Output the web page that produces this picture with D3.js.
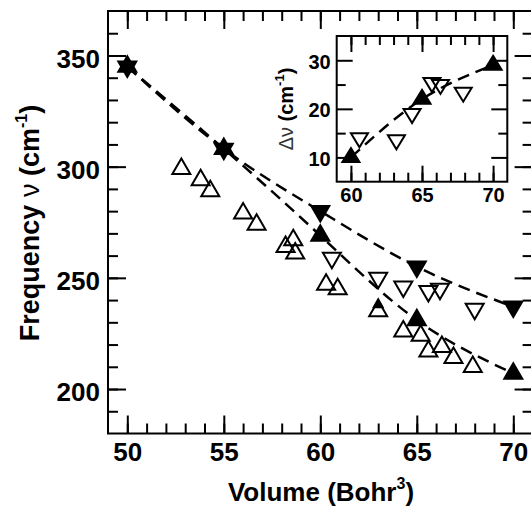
<!DOCTYPE html>
<html>
<head>
<meta charset="utf-8">
<script src="https://cdn.jsdelivr.net/npm/d3@7"></script>
<style>
    body { margin: 0; background: #fff; }
    svg { display: block; font-family: "Liberation Sans", Arial, sans-serif; }
</style>
</head>
<body>
<svg id="chart" width="531" height="510"></svg>
<script>
// calculated frequencies, joined by the dashed lines
const calcVolume = [50, 55, 60, 65, 70];
const calcUpper = [345, 308, 280, 255, 237];   // filled down triangles
const calcLower = [345, 308, 269, 231, 207];   // filled up triangles

// open up triangles
const upVolume = [52.8, 53.8, 54.3, 56.0, 56.7, 58.2, 58.6, 58.7, 60.3, 60.9, 63.0, 64.3, 65.2, 65.6, 66.3, 66.9, 67.9];
const upFreq = [299, 294, 289, 279, 274, 264, 267, 261, 247, 245, 235, 226, 224, 217, 219, 214, 210];

// small filled point hiding in the open triangle at 63
const extraVolume = [63.0];
const extraFreq = [238];

// open down triangles
const downVolume = [60.6, 63.0, 64.3, 65.6, 66.2, 68.0];
const downFreq = [259, 250, 246, 244, 245, 236];

// inset: splitting delta nu
const insetCalcVolume = [60, 65, 70];
const insetCalcDelta = [10, 22, 29];
const insetVolume = [60.6, 63.2, 64.3, 65.7, 66.3, 67.9];
const insetDelta = [14, 13.6, 19, 25.4, 25, 23.4];

// ticks
const xMajor = [50, 55, 60, 65, 70];
const yMajor = [200, 250, 300, 350];
const insetXMajor = [60, 65, 70];
const insetYMajor = [10, 20, 30];

const svg = d3.select("#chart");

// main scales
const x = d3.scaleLinear().domain([49, 71]).range([108, 532.6]);
const y = d3.scaleLinear().domain([180, 370]).range([433.5, 11]);

// inset scales
const xi = d3.scaleLinear().domain([59, 71]).range([336.7, 507.3]);
const yi = d3.scaleLinear().domain([5, 35]).range([181.7, 36]);

// triangle path, centred on its centroid (two of them make a star)
function tri(w, h, down) {
    const t = -2 * h / 3, b = h / 3;
    if (down) return `M${-w/2},${-b}L${w/2},${-b}L0,${-t}Z`;
    return `M0,${t}L${w/2},${b}L${-w/2},${b}Z`;
}

function styleText(sel, size) {
    sel.attr("font-size", size)
        .attr("font-weight", "bold")
        .attr("fill", "black")
        .attr("font-family", "'Liberation Sans', Arial, sans-serif");
}

// box with inward ticks on all four sides, labels bottom and left
function frame(g, xs, ys, o) {
    const [x0, x1] = xs.range();
    const [y0, y1] = ys.range();

    g.append("rect")
        .attr("x", x0).attr("y", y1)
        .attr("width", x1 - x0).attr("height", y0 - y1)
        .attr("fill", "white");

    const sides = [
        [() => d3.axisBottom(xs), `translate(0,${y0})`, o.xMaj, o.xMin],
        [() => d3.axisTop(xs), `translate(0,${y1})`, o.xMaj, o.xMin],
        [() => d3.axisLeft(ys), `translate(${x0},0)`, o.yMaj, o.yMin],
        [() => d3.axisRight(ys), `translate(${x1},0)`, o.yMaj, o.yMin]
    ];

    sides.forEach(([axis, tr, maj, min]) => {
        g.append("g")
            .attr("transform", tr)
            .call(axis().tickValues(min).tickSize(-o.small).tickSizeOuter(0).tickFormat(""))
            .call(a => a.select(".domain").remove())
            .call(a => a.selectAll("line").attr("stroke-width", 2));
        g.append("g")
            .attr("transform", tr)
            .call(axis().tickValues(maj).tickSize(-o.big).tickSizeOuter(0).tickFormat(""))
            .call(a => a.select(".domain").remove())
            .call(a => a.selectAll("line").attr("stroke-width", 2));
    });

    g.append("rect")
        .attr("x", x0).attr("y", y1)
        .attr("width", x1 - x0).attr("height", y0 - y1)
        .attr("fill", "none")
        .attr("stroke", "black")
        .attr("stroke-width", 2);

    // labels
    g.append("g")
        .attr("transform", `translate(0,${y0})`)
        .call(d3.axisBottom(xs).tickValues(o.xMaj).tickSize(0).tickPadding(o.xPad))
        .call(a => a.select(".domain").remove())
        .selectAll("text")
        .call(styleText, o.font);

    g.append("g")
        .attr("transform", `translate(${x0},0)`)
        .call(d3.axisLeft(ys).tickValues(o.yMaj).tickSize(0).tickPadding(o.yPad))
        .call(a => a.select(".domain").remove())
        .selectAll("text")
        .attr("dy", o.yDy)
        .call(styleText, o.font);
}

// ---------- main plot ----------
const main = svg.append("g");
frame(main, x, y, {
    xMaj: xMajor, xMin: d3.range(50, 71),
    yMaj: yMajor, yMin: d3.range(190, 370, 10),
    big: 18, small: 10, font: 26, xPad: 9, yPad: 8, yDy: "0.45em"
});

const line = (xs, ys, xv, yv) => d3.line()
    .x((d, i) => xs(xv[i]))
    .y((d, i) => ys(yv[i]))
    .curve(d3.curveNatural)(xv);

[calcUpper, calcLower].forEach(f => {
    main.append("path")
        .attr("d", line(x, y, calcVolume, f))
        .attr("fill", "none")
        .attr("stroke", "black")
        .attr("stroke-width", 2.5)
        .attr("stroke-dasharray", "12,7");
});

function marks(g, cls, xs, ys, xv, yv, w, h, down, filled) {
    g.selectAll("." + cls)
        .data(xv)
        .join("path")
        .attr("class", cls)
        .attr("transform", (d, i) => `translate(${xs(d)},${ys(yv[i])})`)
        .attr("d", tri(w, h, down))
        .attr("fill", filled ? "black" : "none")
        .attr("stroke", "black")
        .attr("stroke-width", 2);
}

marks(main, "open-up", x, y, upVolume, upFreq, 18, 15.5, false, false);
marks(main, "extra", x, y, extraVolume, extraFreq, 9, 8, false, true);
marks(main, "open-down", x, y, downVolume, downFreq, 18, 15.5, true, false);
marks(main, "calc-down", x, y, calcVolume, calcUpper, 18, 15.5, true, true);
marks(main, "calc-up", x, y, calcVolume, calcLower, 18, 15.5, false, true);

// axis titles
const xTitle = svg.append("text")
    .attr("x", 321).attr("y", 501)
    .attr("text-anchor", "middle")
    .attr("font-size", 26)
    .attr("font-weight", "bold");
xTitle.append("tspan").text("Volume (Bohr");
xTitle.append("tspan").attr("font-size", 16).attr("dy", -12).text("3");
xTitle.append("tspan").attr("dy", 12).text(")");

const yTitle = svg.append("text")
    .attr("transform", "translate(39,223) rotate(-90)")
    .attr("text-anchor", "middle")
    .attr("font-size", 27)
    .attr("font-weight", "bold");
yTitle.append("tspan").text("Frequency ");
yTitle.append("tspan").attr("font-weight", "normal").text("ν");
yTitle.append("tspan").text(" (cm");
yTitle.append("tspan").attr("font-size", 16).attr("dy", -12).text("-1");
yTitle.append("tspan").attr("dy", 12).text(")");

// ---------- inset ----------
const inset = svg.append("g");
frame(inset, xi, yi, {
    xMaj: insetXMajor, xMin: d3.range(60, 71),
    yMaj: insetYMajor, yMin: [15, 25],
    big: 16, small: 9, font: 20, xPad: 6, yPad: 6, yDy: "0.4em"
});

inset.append("path")
    .attr("d", line(xi, yi, insetCalcVolume, insetCalcDelta))
    .attr("fill", "none")
    .attr("stroke", "black")
    .attr("stroke-width", 2.5)
    .attr("stroke-dasharray", "12,7");

marks(inset, "in-open", xi, yi, insetVolume, insetDelta, 17, 14, true, false);
marks(inset, "in-calc", xi, yi, insetCalcVolume, insetCalcDelta, 17, 14, false, true);

const iTitle = svg.append("text")
    .attr("transform", "translate(293,109) rotate(-90)")
    .attr("text-anchor", "middle")
    .attr("font-size", 20)
    .attr("font-weight", "bold");
iTitle.append("tspan").attr("font-weight", "normal").attr("fill", "#333").text("Δν");
iTitle.append("tspan").text("  (cm");
iTitle.append("tspan").attr("font-size", 13).attr("dy", -9).text("-1");
iTitle.append("tspan").attr("dy", 9).text(")");
</script>
</body>
</html>
